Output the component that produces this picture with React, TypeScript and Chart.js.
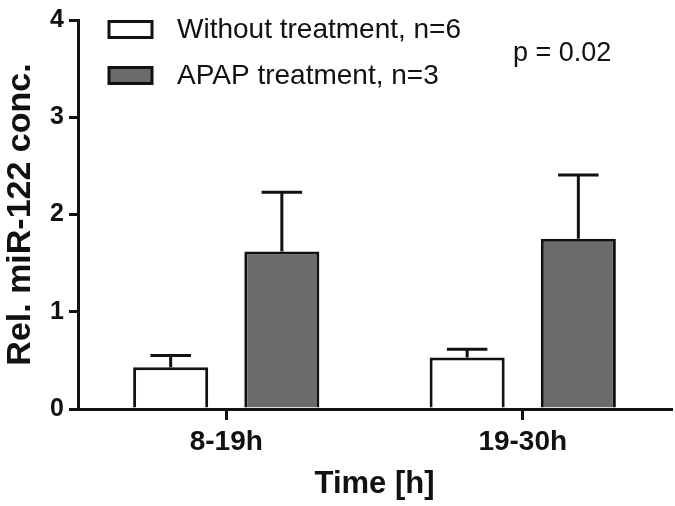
import React, { useEffect, useRef } from "react";
import { Chart, registerables } from "chart.js";

Chart.register(...registerables);

const categories = ["8-19h", "19-30h"];
const seriesLabels = ["Without treatment, n=6", "APAP treatment, n=3"];
const withoutMeans = [0.43, 0.53];
const withoutErrors = [0.12, 0.085];
const apapMeans = [1.62, 1.75];
const apapErrors = [0.61, 0.655];
const yMin = 0;
const yMax = 4;
const yStep = 1;
const pValueText = "p = 0.02";
const yTitle = "Rel. miR-122 conc.";
const xTitle = "Time [h]";

const FONT = "'Liberation Sans', Arial, Helvetica, sans-serif";
const INK = "#111111";
const GREY = "#6b6b6b";

const errorLists = [withoutErrors, apapErrors];

const errorBarPlugin = {
  id: "errorBars",
  afterDatasetsDraw(chart: any) {
    const ctx = chart.ctx;
    const yScale = chart.scales.y;
    ctx.save();
    ctx.strokeStyle = INK;
    ctx.lineWidth = 3;
    ctx.lineCap = "butt";
    chart.data.datasets.forEach((ds: any, i: number) => {
      const meta = chart.getDatasetMeta(i);
      meta.data.forEach((bar: any, j: number) => {
        const v = ds.data[j];
        const e = errorLists[i][j];
        const yTop = yScale.getPixelForValue(v + e);
        const yBar = bar.y;
        const half = bar.width * 0.27;
        ctx.beginPath();
        ctx.moveTo(bar.x, yBar);
        ctx.lineTo(bar.x, yTop);
        ctx.moveTo(bar.x - half, yTop);
        ctx.lineTo(bar.x + half, yTop);
        ctx.stroke();
      });
    });
    ctx.restore();
  },
};

const legendPlugin = {
  id: "customLegend",
  afterDraw(chart: any) {
    const ctx = chart.ctx;
    const area = chart.chartArea;
    ctx.save();
    const boxX = area.left + 31;
    const boxW = 43;
    const boxH = 16;
    const rowY = [area.top + 9.5, area.top + 55.5];
    chart.data.datasets.forEach((ds: any, i: number) => {
      const cy = rowY[i];
      ctx.fillStyle = ds.backgroundColor;
      ctx.fillRect(boxX, cy - boxH / 2, boxW, boxH);
      ctx.strokeStyle = INK;
      ctx.lineWidth = 3;
      ctx.strokeRect(boxX, cy - boxH / 2, boxW, boxH);
      ctx.fillStyle = INK;
      ctx.font = `28px ${FONT}`;
      ctx.textBaseline = "middle";
      ctx.textAlign = "left";
      ctx.fillText(ds.label, area.left + 99, cy + 1);
    });
    ctx.font = `27px ${FONT}`;
    ctx.textBaseline = "middle";
    ctx.textAlign = "left";
    ctx.fillText(pValueText, area.left + 435, area.top + 34);
    ctx.restore();
  },
};

export default function App() {
  const canvasRef = useRef<HTMLCanvasElement | null>(null);

  useEffect(() => {
    if (!canvasRef.current) return;
    const chart = new Chart(canvasRef.current, {
      type: "bar",
      data: {
        labels: categories,
        datasets: [
          {
            label: seriesLabels[0],
            data: withoutMeans,
            backgroundColor: "#ffffff",
            borderColor: INK,
            borderWidth: 3,
            borderSkipped: "start",
          },
          {
            label: seriesLabels[1],
            data: apapMeans,
            backgroundColor: GREY,
            borderColor: INK,
            borderWidth: 3,
            borderSkipped: "start",
          },
        ],
      },
      options: {
        responsive: false,
        animation: false,
        events: [],
        layout: { padding: { top: 15, right: 4, left: 0, bottom: 0 } },
        datasets: {
          bar: { categoryPercentage: 0.75, barPercentage: 0.675 },
        },
        plugins: {
          legend: { display: false },
          tooltip: { enabled: false },
          title: { display: false },
        },
        scales: {
          x: {
            offset: true,
            grid: {
              display: true,
              drawOnChartArea: false,
              drawTicks: true,
              tickLength: 11,
              offset: false,
              color: INK,
              lineWidth: 3,
            },
            border: { display: true, color: INK, width: 3 },
            ticks: {
              color: INK,
              padding: 5,
              font: { family: FONT, size: 28, weight: "bold" },
            },
            title: {
              display: true,
              text: xTitle,
              color: INK,
              font: { family: FONT, size: 31, weight: "bold" },
              padding: { top: 0, bottom: 3 },
            },
            afterFit(scale: any) {
              scale.height = 97;
            },
          },
          y: {
            min: yMin,
            max: yMax,
            grid: {
              display: true,
              drawOnChartArea: false,
              drawTicks: true,
              tickLength: 9,
              color: INK,
              lineWidth: 3,
            },
            border: { display: true, color: INK, width: 3 },
            ticks: {
              stepSize: yStep,
              color: INK,
              padding: 5,
              font: { family: FONT, size: 25, weight: "bold" },
            },
            title: {
              display: true,
              text: yTitle,
              color: INK,
              font: { family: FONT, size: 34, weight: "bold" },
              padding: { top: 0, bottom: 0 },
            },
            afterFit(scale: any) {
              scale.width = 78;
            },
          },
        },
      },
      plugins: [errorBarPlugin, legendPlugin],
    });
    return () => chart.destroy();
  }, []);

  return (
    <div style={{ position: "absolute", left: 0, top: 0, width: 675, height: 506, background: "#fff" }}>
      <canvas ref={canvasRef} width={675} height={506} style={{ display: "block" }} />
    </div>
  );
}
